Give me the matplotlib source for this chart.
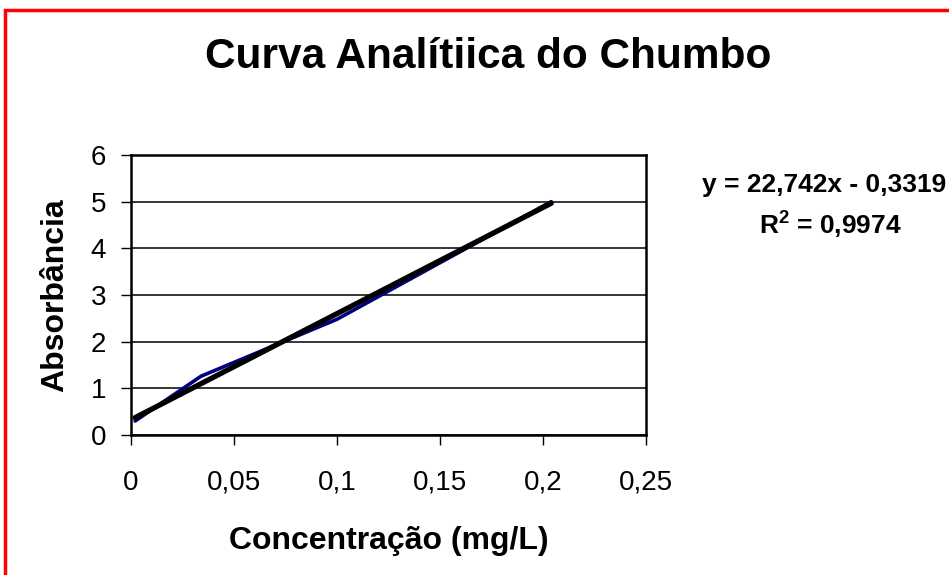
import numpy as np
import matplotlib
matplotlib.use('Agg')
import matplotlib.pyplot as plt
from matplotlib.patches import Rectangle

plt.rcParams['font.family'] = ['Liberation Sans', 'DejaVu Sans']
plt.rcParams['mathtext.fontset'] = 'custom'
plt.rcParams['mathtext.rm'] = 'Liberation Sans'
plt.rcParams['mathtext.bf'] = 'Liberation Sans:bold'

# data
conc = [0.002, 0.034, 0.100, 0.204]
absorb = [0.30, 1.26, 2.48, 5.00]
x_ticks = [0, 0.05, 0.1, 0.15, 0.2, 0.25]
x_labels = ['0', '0,05', '0,1', '0,15', '0,2', '0,25']
y_ticks = [0, 1, 2, 3, 4, 5, 6]
eq_text = 'y = 22,742x - 0,3319'
r2_text = r'$\mathbf{R^2}$ = 0,9974'

fig = plt.figure(figsize=(9.49, 5.75), dpi=100)
fig.patch.set_facecolor('white')
ax = fig.add_axes([131/949, 1 - 435/575, 515/949, 280/575])

# red frame, right and bottom edges run off the picture
fig.patches.append(Rectangle((5/949, -0.1), 1.2, 1 - 10/575 + 0.1,
                             transform=fig.transFigure, fill=False,
                             edgecolor='#ff0000', linewidth=2.5))

ax.plot(conc, absorb, color='#000080', linewidth=2.6, solid_capstyle='round', zorder=3)

# linear trendline
slope, icpt = np.polyfit(conc, absorb, 1)
xt = np.array([min(conc), max(conc)])
ax.plot(xt, slope * xt + icpt, color='black', linewidth=3.8, solid_capstyle='round', zorder=4)

ax.set_xlim(0, 0.25)
ax.set_ylim(0, 6)
ax.set_xticks(x_ticks)
ax.set_xticklabels(x_labels)
ax.set_yticks(y_ticks)
ax.yaxis.grid(True, color='black', linewidth=1.1)
ax.set_axisbelow(True)
for s in ax.spines.values():
    s.set_linewidth(1.8)
    s.set_color('black')
ax.tick_params(axis='both', direction='out', length=7, width=1.0, labelsize=20, colors='black')
ax.tick_params(axis='x', pad=18)
ax.tick_params(axis='y', pad=11)

ax.set_xlabel('Concentração (mg/L)', fontsize=23, fontweight='bold')
ax.xaxis.set_label_coords(0.5, -0.38)
ax.xaxis.label.set_va('center')
ax.set_ylabel('Absorbância', fontsize=23, fontweight='bold')
ax.yaxis.set_label_coords(-0.148, 0.5)
ax.yaxis.label.set_va('center')

fig.text(0.514, 1 - 57/575, 'Curva Analítiica do Chumbo', fontsize=30.5,
         fontweight='bold', ha='center', va='center')
fig.text(824/949, 1 - 185/575, eq_text, fontsize=19, fontweight='bold',
         ha='center', va='center')
fig.text(830/949, 1 - 225/575, r2_text, fontsize=19, fontweight='bold',
         ha='center', va='center')

fig.savefig('out.png', dpi=100)
